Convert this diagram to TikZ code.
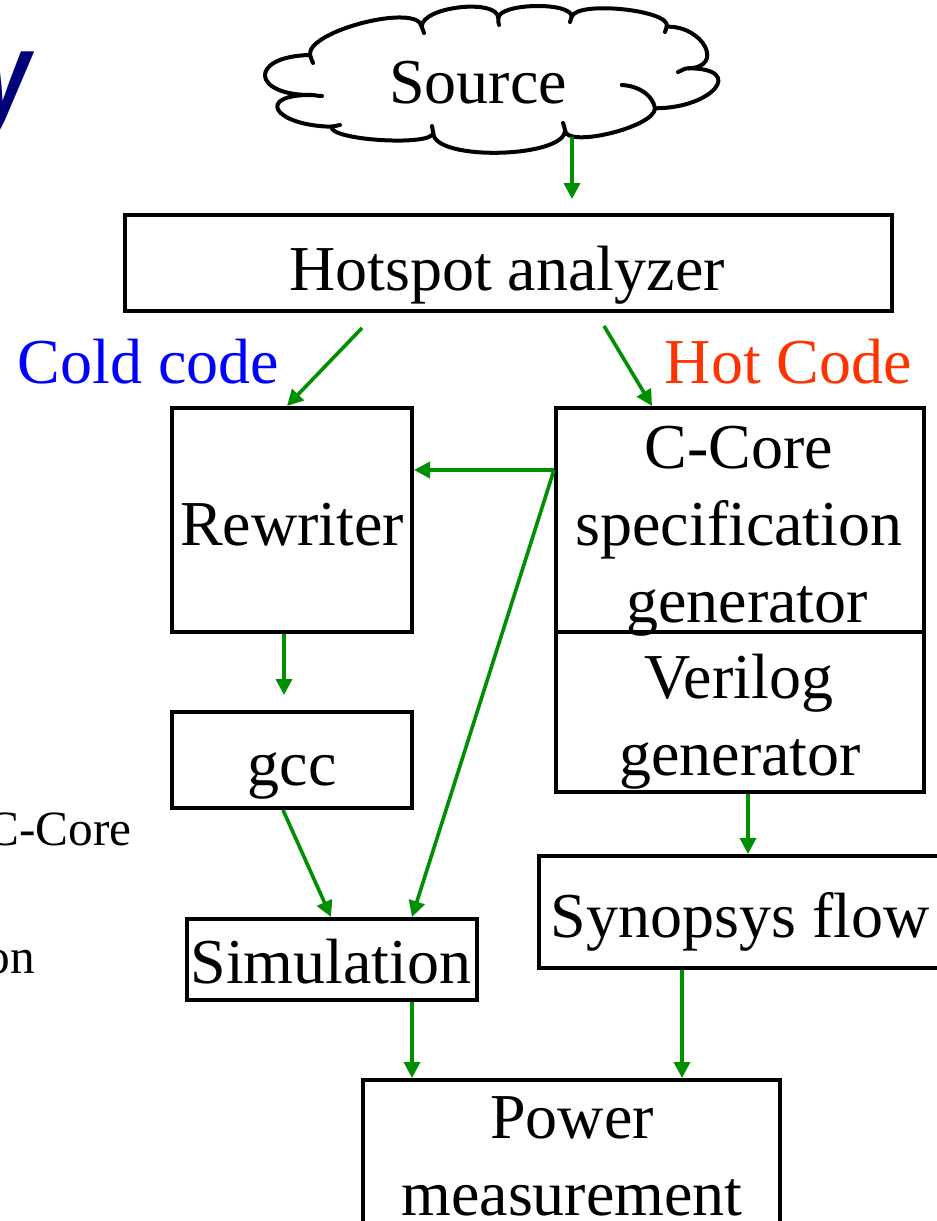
\documentclass[tikz,border=0pt]{standalone}
\usepackage{fontspec}
\setmainfont{Liberation Serif}
\newfontfamily\titlesans{Liberation Sans}
\usetikzlibrary{arrows.meta,fit,calc}
\definecolor{flowgreen}{RGB}{0,143,0}
\definecolor{hotred}{RGB}{255,51,0}
\definecolor{coldblue}{RGB}{0,0,255}
\definecolor{titlenavy}{RGB}{0,0,120}
\begin{document}
\begin{tikzpicture}[x=0.75pt,y=-0.75pt,
  box/.style={draw, line width=3pt, inner sep=0pt},
  cloudline/.style={draw, line width=3pt, line join=round, line cap=round},
  lbl/.style={inner sep=0pt, anchor=base, font=\fontsize{48}{57.6}\selectfont},
  side/.style={inner sep=0pt, anchor=base east, font=\fontsize{37}{44}\selectfont},
  flow/.style={draw=flowgreen, line width=2.7pt, -{Triangle[length=12pt,width=12pt]}}]
\useasboundingbox (0,0) rectangle (937,1221);

% partial title glyph and side text (cut by page edge)
\node[anchor=base west, inner sep=0pt, text=titlenavy, yscale=1.35, transform shape,
  font=\titlesans\bfseries\itshape\fontsize{68}{68}\selectfont] (ttl) at (-20,116) {y};
\node[side] (sideA) at (132,845) {C-Core};
\node[side] (sideB) at (35,973) {on};

% cloud outline
\draw[cloudline]
  (310,55) .. controls (306.6,30.8) and (418.3,2.5) .. (421.7,26.7)
  .. controls (421.7,6.4) and (498.3,-2) .. (498.3,18.3)
  .. controls (498.3,3) and (571.7,1.4) .. (571.7,16.7)
  .. controls (577.2,0.2) and (672.2,10.2) .. (666.7,26.7)
  .. controls (703.4,25.6) and (725,67.2) .. (688.3,68.3)
  .. controls (746.1,68.3) and (712.8,108.3) .. (655,108.3)
  .. controls (655,127.2) and (565,148.9) .. (565,130)
  .. controls (566.1,158.1) and (434.4,161.4) .. (433.3,133.3)
  .. controls (430,146.6) and (328.4,140) .. (331.7,126.7)
  .. controls (272.8,125.6) and (254.4,93.9) .. (313.3,95)
  .. controls (251.1,96.3) and (247.8,56.3) .. (310,55) -- cycle;
% inner hooks of the cloud
\draw[cloudline] (310,55) to[out=-75,in=110] (313,63);
\draw[cloudline] (421.7,26.7) to[out=-80,in=120] (424,33);
\draw[cloudline] (498.3,18.3) to[out=-90,in=110] (499,25);
\draw[cloudline] (571.7,16.7) to[out=-100,in=80] (570,22);
\draw[cloudline] (666.7,26.7) to[out=-100,in=80] (665,32);
\draw[cloudline] (688.3,68.3) to[out=180,in=20] (678,72);
\draw[cloudline] (621.7,85) .. controls (640,86) and (653,96) .. (655,108.3);
\draw[cloudline] (565,130) to[out=90,in=-80] (563,123);
\draw[cloudline] (433.3,133.3) to[out=90,in=-80] (432,126);
\draw[cloudline] (331.7,126.7) to[out=10,in=-170] (340,125);
\draw[cloudline] (313.3,95) to[out=0,in=-170] (322,96);

% boxes
\node[box, fit={(125,215) (892,311)}] (hot) {};
\node[box, fit={(172,408) (412,632)}] (rew) {};
\node[box, fit={(556,408) (924,632)}] (ccore) {};
\node[box, fit={(556,632) (924,792)}] (ver) {};
\node[box, fit={(172,712) (412,808)}] (gcc) {};
\node[box, fit={(187,919) (477,1000)}] (sim) {};
\node[box, fit={(539,856) (965,968)}] (syn) {};
\node[box, fit={(363,1080) (780,1260)}] (pow) {};

% texts
\node[lbl] (tsrc) at (478,103) {Source};
\node[lbl] (thot) at (507,290) {Hotspot analyzer};
\node[lbl, text=coldblue] (tcold) at (148.5,383) {Cold code};
\node[lbl, text=hotred] (thotc) at (788.5,383) {Hot Code};
\node[lbl] (trew) at (292,545) {Rewriter};
\node[lbl] (tcc1) at (739,468) {C-Core};
\node[lbl] (tcc2) at (739,545) {specification};
\node[lbl] (tcc3) at (747,622) {generator};
\node[lbl] (tver1) at (739,698) {Verilog};
\node[lbl] (tver2) at (740,775) {generator};
\node[lbl] (tgcc) at (292,785) {gcc};
\node[lbl] (tsim) at (331,983) {Simulation};
\node[lbl] (tsyn) at (740,937) {Synopsys flow};
\node[lbl] (tpow1) at (572,1138) {Power};
\node[lbl] (tpow2) at (572,1215) {measurement};

% connector ports
\coordinate (srcOut) at (572,137);
\coordinate (hotIn) at (572,199);
\coordinate (coldOut) at (362,328);
\coordinate (hotOut) at (604,326);
\coordinate (rewOut) at ($(rew.south)+(-8,0)$);
\coordinate (gccIn) at (284,695);
\coordinate (feed) at ($(ccore.north west)+(0,64)$);
\coordinate (gccOut) at ($(gcc.south)+(-9,0)$);
\coordinate (simOut) at ($(sim.south)+(80,0)$);
\coordinate (verOut) at ($(ver.south)+(8,0)$);
\coordinate (synOut) at ($(syn.south west)+(145,0)$);

% connectors
\draw[flow] (srcOut) -- (hotIn);
\draw[flow] (coldOut) -- ($(rew.north)+(-5,0)$);
\draw[flow] (hotOut) -- ($(ccore.north)+(-88,0)$);
\draw[flow] (feed) -- (feed -| rew.east);
\draw[flow] (feed) -- ($(sim.north)+(80,0)$);
\draw[flow] (rewOut) -- (gccIn);
\draw[flow] (gccOut) -- ($(sim.north)+(-1,0)$);
\draw[flow] (verOut) -- (verOut |- syn.north);
\draw[flow] (simOut) -- (simOut |- pow.north);
\draw[flow] (synOut) -- (synOut |- pow.north);
\end{tikzpicture}
\end{document}
